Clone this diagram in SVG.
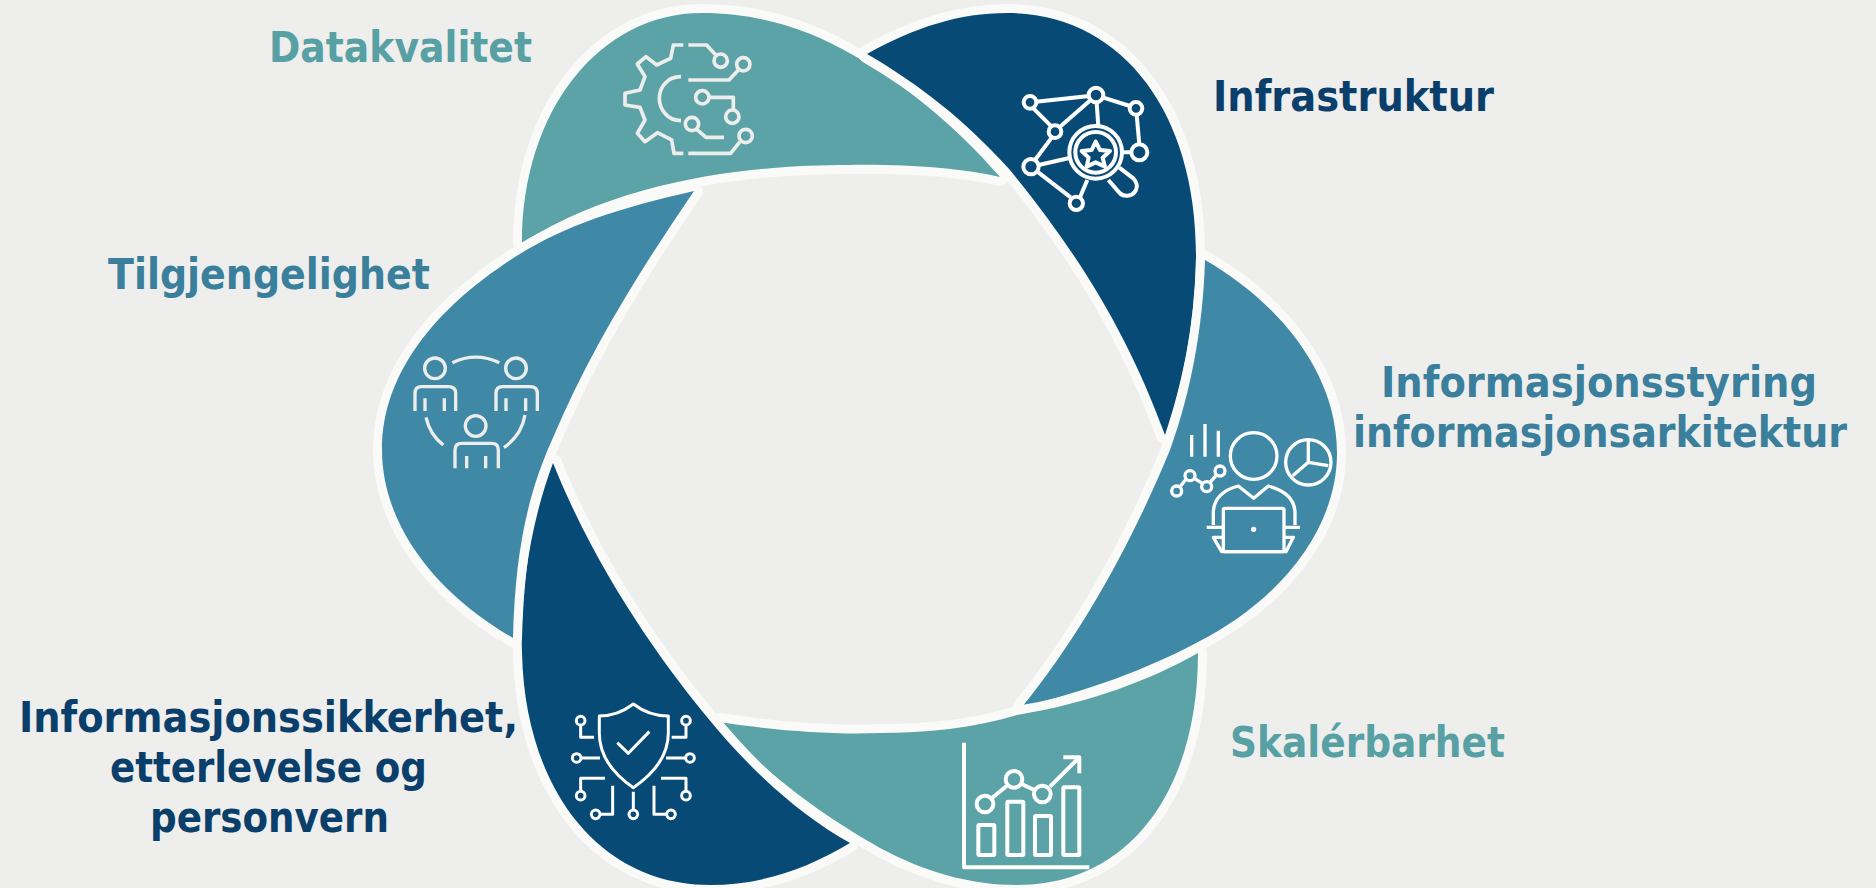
<svg xmlns="http://www.w3.org/2000/svg" width="1876" height="888" viewBox="0 0 1876 888">
<style>
.petal{stroke:#fafaf8;stroke-width:18;paint-order:stroke;stroke-linejoin:round}
.teal{fill:#5ca3a7}.navy{fill:#084a76}.blue{fill:#3f89a6}
.ic{fill:none;stroke:#fff;stroke-linecap:butt;stroke-linejoin:round}
.soft{stroke:#ededeb}
text{font-family:"DejaVu Sans Condensed","DejaVu Sans","Noto Sans",sans-serif;font-weight:700;font-size:42px}
.tt{fill:#57a0a4}.tb{fill:#3a7f9c}.tn{fill:#0a3f6b}
</style>
<rect width="1876" height="888" fill="#eeeeec"/>
<g id="node-datakvalitet">
<path class="petal teal" d="M522,243C522,110 600,13 702,13C760,13 810,30 853,55C905,85 955,125 1000,177C960,168 905,164 849,165C765,165 630,175 522,243Z"/>
<g class="ic soft" stroke-width="11" transform="translate(600 30) scale(.3333)">
<path d="M250,45H220L212,85L170,105L138,80L112,102L135,140L120,180L75,190V225L120,232L135,270L112,310L135,335L172,308L215,330L222,370H250"/>
<path d="M243,140C195,140 178,180 178,205C178,235 200,272 243,272"/>
<path d="M265,45H320L350,78M265,150H387L415,120M327,202H400V240M290,298L318,322H372M265,370H392L420,335"/>
<circle cx="362" cy="92" r="20"/><circle cx="430" cy="103" r="20"/><circle cx="307" cy="202" r="20"/><circle cx="397" cy="260" r="20"/><circle cx="276" cy="282" r="20"/><circle cx="437" cy="318" r="20"/>
</g>
<text class="tt" x="269" y="62" textLength="263" lengthAdjust="spacingAndGlyphs">Datakvalitet</text>
</g>
<g id="node-infrastruktur">
<path class="petal navy" d="M867,54C915,27 960,13 1007,13C1120,13 1196,110 1196,255C1196,320 1182,385 1165,435C1130,340 1085,262 1010,170C965,120 920,85 867,54Z"/>
<g class="ic" stroke-width="12" transform="translate(1000 70) scale(.3333)">
<circle cx="90" cy="97" r="19"/><circle cx="288" cy="75" r="22"/><circle cx="408" cy="115" r="19"/><circle cx="165" cy="185" r="19"/><circle cx="418" cy="247" r="24"/><circle cx="93" cy="290" r="23"/><circle cx="229" cy="400" r="20"/>
<path d="M108,95L268,78M100,115L155,170M180,170L272,90M290,97L295,170M308,82L390,108M410,134L418,223M155,203L105,270M116,285L205,265M112,305L212,382M240,382L262,330M368,247H394"/>
<circle cx="287" cy="247" r="79"/><circle cx="287" cy="247" r="61"/>
<path d="M325,330L358,368C370,382 395,380 405,365C415,350 410,335 400,325L358,293"/>
<path d="M287,215L300,240L330,243L308,263L315,290L287,277L260,290L266,263L245,243L275,240Z"/>
</g>
<text class="tn" x="1213" y="111" textLength="281" lengthAdjust="spacingAndGlyphs">Infrastruktur</text>
</g>
<g id="node-informasjonsstyring">
<path class="petal blue" d="M1205,260C1275,300 1337,370 1337,453C1337,530 1280,600 1198,642C1145,670 1090,690 1022,707C1085,630 1135,535 1170,450C1190,395 1203,330 1205,260Z"/>
<g class="ic" stroke-width="10" transform="translate(1160 410) scale(.3333)">
<path d="M95,75V140M135,42V140M175,62V140"/>
<circle cx="50" cy="243" r="15"/><circle cx="90" cy="197" r="15"/><circle cx="140" cy="230" r="15"/><circle cx="180" cy="183" r="15"/>
<path d="M62,228L78,208M103,205L127,220M150,217L168,197"/>
<circle cx="281" cy="138" r="70"/><circle cx="445" cy="157" r="68"/>
<path d="M445,90V157L505,167M445,157L398,197"/>
<path d="M160,345V310C160,265 190,240 235,228L281,265L325,228C370,240 405,265 405,310V345"/>
<rect x="190" y="295" width="182" height="130" rx="5"/>
<path d="M140,352H190M372,352H420M190,382H160L185,425H378L400,382H372"/>
<circle cx="281" cy="358" r="3" fill="#fff"/>
</g>
<text class="tb" x="1381" y="397" textLength="436" lengthAdjust="spacingAndGlyphs">Informasjonsstyring</text>
<text class="tb" x="1353" y="447" textLength="494" lengthAdjust="spacingAndGlyphs">informasjonsarkitektur</text>
</g>
<g id="node-skalerbarhet">
<path class="petal teal" d="M720,722C770,730 830,735 880,733C925,733 975,728 1017,715C1090,703 1150,680 1198,653C1198,790 1130,885 1017,885C970,885 925,872 880,848C840,825 775,785 720,722Z"/>
<g class="ic" stroke-width="12" transform="translate(950 730) scale(.3333)">
<path d="M42,38V412H418"/>
<rect x="85" y="285" width="48" height="90" rx="3"/><rect x="172" y="215" width="48" height="160" rx="3"/><rect x="255" y="258" width="48" height="117" rx="3"/><rect x="340" y="172" width="48" height="203" rx="3"/>
<circle cx="105" cy="222" r="25"/><circle cx="192" cy="148" r="25"/><circle cx="277" cy="192" r="25"/>
<path d="M125,205L170,168M215,162L253,180M300,170L385,85M340,82H388V130"/>
</g>
<text class="tt" x="1230" y="757" textLength="275" lengthAdjust="spacingAndGlyphs">Skalérbarhet</text>
</g>
<g id="node-informasjonssikkerhet">
<path class="petal navy" d="M553,463C528,530 520,600 522,653C525,790 600,885 710,885C760,885 805,870 850,843C800,815 750,770 707,717C670,672 600,580 553,463Z"/>
<g class="ic" stroke-width="9" transform="translate(560 690) scale(.3333)">
<path d="M220,42C190,65 155,78 118,78V130C118,200 165,255 220,293C275,255 325,200 325,130V78C285,78 250,65 220,42Z"/>
<path d="M172,158L205,190L268,125"/>
<circle cx="62" cy="92" r="13"/><circle cx="378" cy="92" r="13"/><circle cx="50" cy="204" r="13"/><circle cx="390" cy="204" r="13"/><circle cx="62" cy="317" r="13"/><circle cx="378" cy="317" r="13"/><circle cx="107" cy="373" r="13"/><circle cx="333" cy="373" r="13"/><circle cx="220" cy="373" r="13"/>
<path d="M62,105V142H102M378,105V142H335M63,204H120M377,204H318M135,265H62V303M303,265H378V303M158,287V373H120M282,287V373H320M220,305V360"/>
</g>
<text class="tn" x="19" y="732" textLength="499" lengthAdjust="spacingAndGlyphs">Informasjonssikkerhet,</text>
<text class="tn" x="110" y="782" textLength="317" lengthAdjust="spacingAndGlyphs">etterlevelse og</text>
<text class="tn" x="150" y="832" textLength="239" lengthAdjust="spacingAndGlyphs">personvern</text>
</g>
<g id="node-tilgjengelighet">
<path class="petal blue" d="M694,191C620,208 565,225 515,257C440,305 382,370 382,450C382,520 430,590 513,638C515,560 525,500 552,440C590,350 640,270 694,191Z"/>
<g class="ic soft" stroke-width="10" transform="translate(400 340) scale(.3333)">
<circle cx="105" cy="85" r="31"/><circle cx="348" cy="85" r="31"/><circle cx="227" cy="258" r="31"/>
<path d="M45,213V160Q45,140 65,140H145Q167,140 167,160V213M75,175V213M133,175V213"/>
<path d="M288,213V160Q288,140 308,140H390Q412,140 412,160V213M318,175V213M377,175V213"/>
<path d="M165,385V330Q165,310 185,310H275Q295,310 295,330V385M200,348V385M257,348V385"/>
<path d="M157,68Q227,35 298,68M78,232Q90,285 130,315M375,225Q365,285 312,323"/>
</g>
<text class="tb" x="108" y="289" textLength="322" lengthAdjust="spacingAndGlyphs">Tilgjengelighet</text>
</g>
</svg>
